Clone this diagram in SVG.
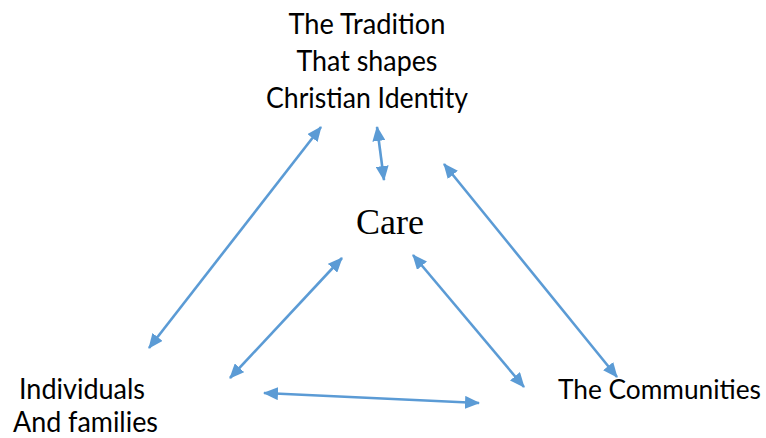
<svg xmlns="http://www.w3.org/2000/svg" width="766" height="438" viewBox="0 0 766 438">
  <style>
    .lbl { font-family: Lato, "Open Sans", "Liberation Sans", sans-serif; font-size: 28px; fill: #000; text-anchor: middle; }
    .center { font-family: "Liberation Serif", "Times New Roman", serif; font-size: 36px; fill: #000; text-anchor: middle; }
    .conn { stroke: #5B9BD5; stroke-width: 2.6; fill: none; marker-start: url(#head); marker-end: url(#head); }
  </style>
  <defs>
    <marker id="head" viewBox="0 0 15 13" refX="14" refY="6.5" markerWidth="15" markerHeight="13" markerUnits="userSpaceOnUse" orient="auto-start-reverse">
      <path d="M0,0 L15,6.5 L0,13 z" fill="#5B9BD5"/>
    </marker>
  </defs>
  <rect width="766" height="438" fill="#fff"/>

  <g id="tradition">
    <text class="lbl" x="367" y="34" textLength="157" lengthAdjust="spacingAndGlyphs">The Tradition</text>
    <text class="lbl" x="367" y="71" textLength="141" lengthAdjust="spacingAndGlyphs">That shapes</text>
    <text class="lbl" x="367" y="108" textLength="202" lengthAdjust="spacingAndGlyphs">Christian Identity</text>
  </g>

  <g id="care">
    <text class="center" x="390" y="234">Care</text>
  </g>

  <g id="individuals">
    <text class="lbl" x="82" y="399" textLength="126" lengthAdjust="spacingAndGlyphs">Individuals</text>
    <text class="lbl" x="85.5" y="432" textLength="145" lengthAdjust="spacingAndGlyphs">And families</text>
  </g>

  <g id="communities">
    <text class="lbl" x="558" y="399" style="text-anchor:start;font-size:26px" textLength="203" lengthAdjust="spacingAndGlyphs">The Communities</text>
  </g>

  <g id="connectors">
    <line class="conn" x1="321" y1="127" x2="149" y2="348"/>
    <line class="conn" x1="342" y1="258" x2="230" y2="378"/>
    <line class="conn" x1="377" y1="127" x2="384" y2="180"/>
    <line class="conn" x1="444" y1="164" x2="617" y2="377"/>
    <line class="conn" x1="413" y1="255" x2="524" y2="387"/>
    <line class="conn" x1="264" y1="393" x2="479" y2="403"/>
  </g>
</svg>
